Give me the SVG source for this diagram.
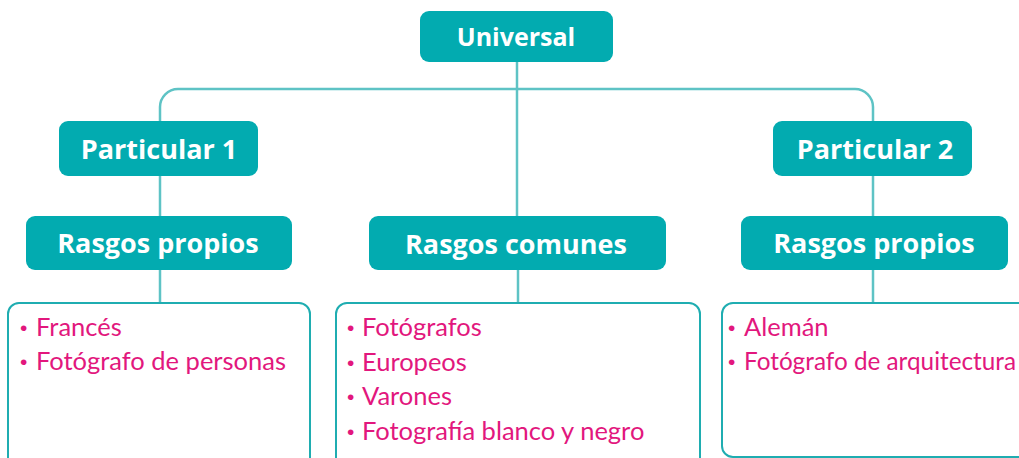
<svg xmlns="http://www.w3.org/2000/svg" width="1019" height="458" viewBox="0 0 1019 458">
<style>
.hdr{fill:#02abb0}
.ht{font-family:"Open Sans","Noto Sans",sans-serif;font-weight:bold;font-size:27px;fill:#ffffff;text-anchor:middle}
.conn{fill:none;stroke:#5ec3c5;stroke-width:2.5}
.list{fill:#ffffff;stroke:#1fadb1;stroke-width:2}
.lt{font-family:Lato,"Liberation Sans",sans-serif;font-size:25.5px;fill:#e2177d}
.bl{font-family:"Liberation Sans",sans-serif;font-size:21px;fill:#e2177d}
</style>
<rect width="1019" height="458" fill="#ffffff"/>
<g id="connectors">
<path class="conn" d="M160,121 V107 A18,18 0 0 1 178,89 H855 A18,18 0 0 1 873,107 V121"/>
<path class="conn" d="M517,62 V216"/>
<path class="conn" d="M160,176 V216"/>
<path class="conn" d="M873,176 V216"/>
<path class="conn" d="M160,270 V303"/>
<path class="conn" d="M518,270 V303"/>
<path class="conn" d="M873,270 V303"/>
</g>
<g id="universal">
<rect class="hdr" x="420" y="11" width="193" height="51" rx="9"/>
<text class="ht" x="516" y="46" style="font-size:25px">Universal</text>
</g>
<g id="particular1">
<rect class="hdr" x="59" y="121" width="199" height="55" rx="9"/>
<text class="ht" x="159" y="159">Particular 1</text>
</g>
<g id="particular2">
<rect class="hdr" x="773" y="121" width="199" height="55" rx="9"/>
<text class="ht" x="875" y="159">Particular 2</text>
</g>
<g id="rasgos-propios-1">
<rect class="hdr" x="26" y="216" width="266" height="54" rx="9"/>
<text class="ht" x="158" y="253">Rasgos propios</text>
</g>
<g id="rasgos-comunes">
<rect class="hdr" x="369" y="216" width="297" height="54" rx="9"/>
<text class="ht" x="516" y="254">Rasgos comunes</text>
</g>
<g id="rasgos-propios-2">
<rect class="hdr" x="741" y="216" width="267" height="54" rx="9"/>
<text class="ht" x="874" y="253">Rasgos propios</text>
</g>
<g id="lista-1">
<rect class="list" x="8" y="303" width="302" height="165" rx="11"/>
<text class="bl" x="20" y="335">•</text>
<text class="lt" x="36" y="336">Francés</text>
<text class="bl" x="20" y="369">•</text>
<text class="lt" x="36" y="370">Fotógrafo de personas</text>
</g>
<g id="lista-2">
<rect class="list" x="336" y="303" width="364" height="165" rx="11"/>
<text class="bl" x="347" y="335">•</text>
<text class="lt" x="362" y="336">Fotógrafos</text>
<text class="bl" x="347" y="370">•</text>
<text class="lt" x="362" y="371">Europeos</text>
<text class="bl" x="347" y="404">•</text>
<text class="lt" x="362" y="405">Varones</text>
<text class="bl" x="347" y="439">•</text>
<text class="lt" x="362" y="440">Fotografía blanco y negro</text>
</g>
<g id="lista-3">
<rect class="list" x="722" y="303" width="320" height="154" rx="11"/>
<text class="bl" x="728" y="335">•</text>
<text class="lt" x="744" y="336">Alemán</text>
<text class="bl" x="728" y="369">•</text>
<text class="lt" x="744" y="370" style="font-size:24.3px">Fotógrafo de arquitectura</text>
</g>
</svg>
